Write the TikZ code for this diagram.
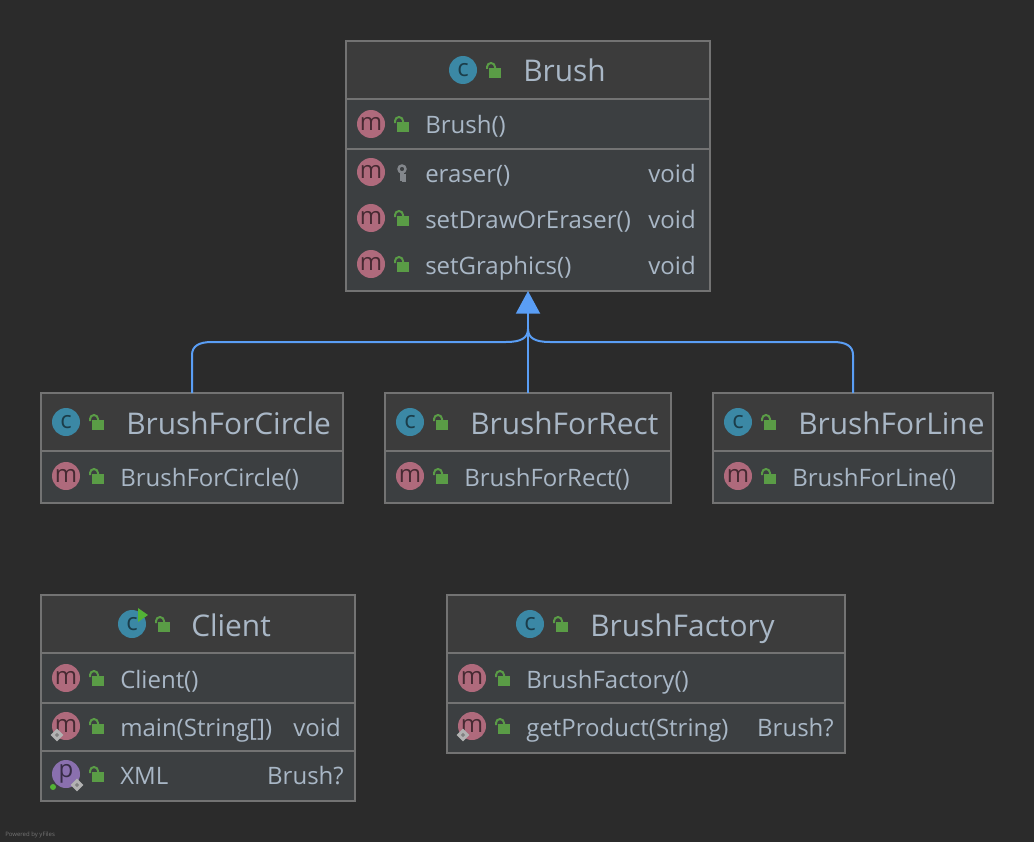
\documentclass[tikz,border=0pt]{standalone}
\usepackage{fontspec}
\setmainfont{Open Sans}
\usetikzlibrary{arrows.meta}
\definecolor{CanvasGray}{HTML}{2B2B2B}
\definecolor{HeadGray}{HTML}{3C3C3C}
\definecolor{RowGray}{HTML}{3C3F41}
\definecolor{BorderGray}{HTML}{737373}
\definecolor{TextBlue}{HTML}{A9B7C6}
\definecolor{EdgeBlue}{HTML}{5A9EF5}
\definecolor{BadgeTeal}{HTML}{3B88A5}
\definecolor{BadgeRose}{HTML}{AF6A7C}
\definecolor{BadgePurple}{HTML}{8A70AE}
\definecolor{LockGreen}{HTML}{5A9C46}
\definecolor{RunGreen}{HTML}{53B336}
\tikzset{
  classbox/.style={draw=BorderGray,fill=RowGray,line width=1.5pt,inner sep=0pt,outer sep=0pt},
  headbox/.style={draw=BorderGray,fill=HeadGray,line width=1.5pt,inner sep=0pt,outer sep=0pt},
  rowline/.style={draw=BorderGray,line width=1.5pt},
  titletext/.style={anchor=base west,text=TextBlue,inner sep=0pt,font=\fontsize{22.4}{26}\selectfont},
  rowtext/.style={anchor=base west,text=TextBlue,inner sep=0pt,font=\fontsize{18}{22}\selectfont},
  typetext/.style={anchor=base east,text=TextBlue,inner sep=0pt,font=\fontsize{18}{22}\selectfont},
  badge/.style={circle,inner sep=0pt,minimum size=21pt,font=\fontsize{18}{18}\selectfont},
  classbadge/.style={badge,fill=BadgeTeal,text=black!55!BadgeTeal},
  methodbadge/.style={badge,fill=BadgeRose,text=black!60!BadgeRose},
  propbadge/.style={badge,fill=BadgePurple,text=black!60!BadgePurple},
  inherit/.style={draw=EdgeBlue,line width=1.5pt},
  openlock/.pic={
    \fill[LockGreen] (-4,-2) rectangle (8,8);
    \draw[LockGreen,line width=1.5pt] (-6,-1) -- (-6,-3) arc (180:360:4) -- (2,-2);
  },
  keyicon/.pic={
    \draw[BorderGray!70!TextBlue,line width=1.8pt] (0,-4) circle (3.5);
    \draw[BorderGray!70!TextBlue,line width=2.4pt] (0,-1) -- (0,8) (0,3) -- (3.5,3) (0,7) -- (3.5,7);
  },
  staticmark/.pic={
    \fill[black!30!white,rotate=45] (-4.5,-4.5) rectangle (4.5,4.5);
    \fill[gray,rotate=45] (-1.5,-1.5) rectangle (1.5,1.5);
  }
}
\begin{document}
\begin{tikzpicture}[x=0.75pt,y=-0.75pt]
  \useasboundingbox (0,0) rectangle (1034,842);
  \fill[CanvasGray] (0,0) rectangle (1034,842);

  % Brush
  \node[classbox,minimum width=273pt,minimum height=187.5pt] (brush) at (528,166) {};
  \node[headbox,minimum width=273pt,minimum height=43.5pt,anchor=north] (brushhead) at (brush.north) {};
  \draw[rowline] (brush.west |- 0,149) -- (brush.east |- 0,149);
  \node[classbadge] (brushc) at (463,70) {c}; \pic at (493,70) {openlock};
  \node[titletext] (brushtitle) at (523,82) {Brush};
  \node[methodbadge] (brushm1) at (371,124) {m}; \pic at (401,124) {openlock};
  \node[rowtext] (brushrow1) at (425,133) {Brush()};
  \node[methodbadge] (brushm2) at (371,172) {m}; \pic at (402,173) {keyicon};
  \node[rowtext] (brushrow2) at (425,182) {eraser()}; \node[typetext] (brushtype2) at (696,182) {void};
  \node[methodbadge] (brushm3) at (371,218) {m}; \pic at (401,218) {openlock};
  \node[rowtext] (brushrow3) at (425,228) {setDrawOrEraser()}; \node[typetext] (brushtype3) at (696,228) {void};
  \node[methodbadge] (brushm4) at (371,264) {m}; \pic at (401,264) {openlock};
  \node[rowtext] (brushrow4) at (425,274) {setGraphics()}; \node[typetext] (brushtype4) at (696,274) {void};

  % BrushForCircle
  \node[classbox,minimum width=226.5pt,minimum height=82.5pt] (circle) at (192,448) {};
  \node[headbox,minimum width=226.5pt,minimum height=43.5pt,anchor=north] (circlehead) at (circle.north) {};
  \node[classbadge] (circlec) at (66,422) {c}; \pic at (96,422) {openlock};
  \node[titletext] (circletitle) at (126,434) {BrushForCircle};
  \node[methodbadge] (circlem) at (66,476) {m}; \pic at (96,476) {openlock};
  \node[rowtext] (circlerow) at (120,486) {BrushForCircle()};

  % BrushForRect
  \node[classbox,minimum width=214.5pt,minimum height=82.5pt] (rect) at (528,448) {};
  \node[headbox,minimum width=214.5pt,minimum height=43.5pt,anchor=north] (recthead) at (rect.north) {};
  \node[classbadge] (rectc) at (410,422) {c}; \pic at (440,422) {openlock};
  \node[titletext] (recttitle) at (470,434) {BrushForRect};
  \node[methodbadge] (rectm) at (410,476) {m}; \pic at (440,476) {openlock};
  \node[rowtext] (rectrow) at (464,486) {BrushForRect()};

  % BrushForLine
  \node[classbox,minimum width=210pt,minimum height=82.5pt] (line) at (853,448) {};
  \node[headbox,minimum width=210pt,minimum height=43.5pt,anchor=north] (linehead) at (line.north) {};
  \node[classbadge] (linec) at (738,422) {c}; \pic at (768,422) {openlock};
  \node[titletext] (linetitle) at (798,434) {BrushForLine};
  \node[methodbadge] (linem) at (738,476) {m}; \pic at (768,476) {openlock};
  \node[rowtext] (linerow) at (792,486) {BrushForLine()};

  % Client
  \node[classbox,minimum width=235.5pt,minimum height=154.5pt] (client) at (198,698) {};
  \node[headbox,minimum width=235.5pt,minimum height=43.5pt,anchor=north] (clienthead) at (client.north) {};
  \draw[rowline] (client.west |- 0,703) -- (client.east |- 0,703);
  \draw[rowline] (client.west |- 0,751) -- (client.east |- 0,751);
  \node[classbadge] (clientc) at (132,624) {c}; \pic at (162,624) {openlock};
  \fill[RunGreen] (138,608) -- (148,615) -- (138,622) -- cycle;
  \node[titletext] (clienttitle) at (191,636) {Client};
  \node[methodbadge] (clientm1) at (66,678) {m}; \pic at (96,678) {openlock};
  \node[rowtext] (clientrow1) at (120,688) {Client()};
  \node[methodbadge] (clientm2) at (66,726) {m}; \pic at (96,726) {openlock}; \pic at (57,735) {staticmark};
  \node[rowtext] (clientrow2) at (120,736) {main(String[])}; \node[typetext] (clienttype2) at (341,736) {void};
  \node[propbadge] (clientp) at (66,774) {p}; \pic at (96,774) {openlock}; \pic at (77,785) {staticmark};
  \fill[RunGreen] (53,787) circle (3);
  \node[rowtext] (clientrow3) at (120,784) {XML}; \node[typetext] (clienttype3) at (344,784) {Brush?};

  % BrushFactory
  \node[classbox,minimum width=298.5pt,minimum height=118.5pt] (factory) at (646,674) {};
  \node[headbox,minimum width=298.5pt,minimum height=43.5pt,anchor=north] (factoryhead) at (factory.north) {};
  \draw[rowline] (factory.west |- 0,703) -- (factory.east |- 0,703);
  \node[classbadge] (factoryc) at (530,624) {c}; \pic at (560,624) {openlock};
  \node[titletext] (factorytitle) at (590,636) {BrushFactory};
  \node[methodbadge] (factorym1) at (472,678) {m}; \pic at (502,678) {openlock};
  \node[rowtext] (factoryrow1) at (526,688) {BrushFactory()};
  \node[methodbadge] (factorym2) at (472,726) {m}; \pic at (502,726) {openlock}; \pic at (463,735) {staticmark};
  \node[rowtext] (factoryrow2) at (526,736) {getProduct(String)}; \node[typetext] (factorytype2) at (834,736) {Brush?};

  % inheritance
  \coordinate (merge) at (528,329);
  \draw[inherit,-{Triangle[length=17pt,width=18pt]}] (rect.north) -- (brush.south);
  \draw[inherit] (circle.north) -- ++(0,-38) .. controls (192,346) and (199,342) .. (212,342) -- (506,342) .. controls (521,342) and (528,338) .. (merge);
  \draw[inherit] (line.north) -- ++(0,-38) .. controls (853,346) and (846,342) .. (833,342) -- (550,342) .. controls (535,342) and (528,338) .. (merge);

  \node[anchor=base west,inner sep=0pt,text=white!35!CanvasGray,font=\fontsize{4.5}{5}\selectfont] (poweredby) at (5,836) {Powered by yFiles};
\end{tikzpicture}
\end{document}
